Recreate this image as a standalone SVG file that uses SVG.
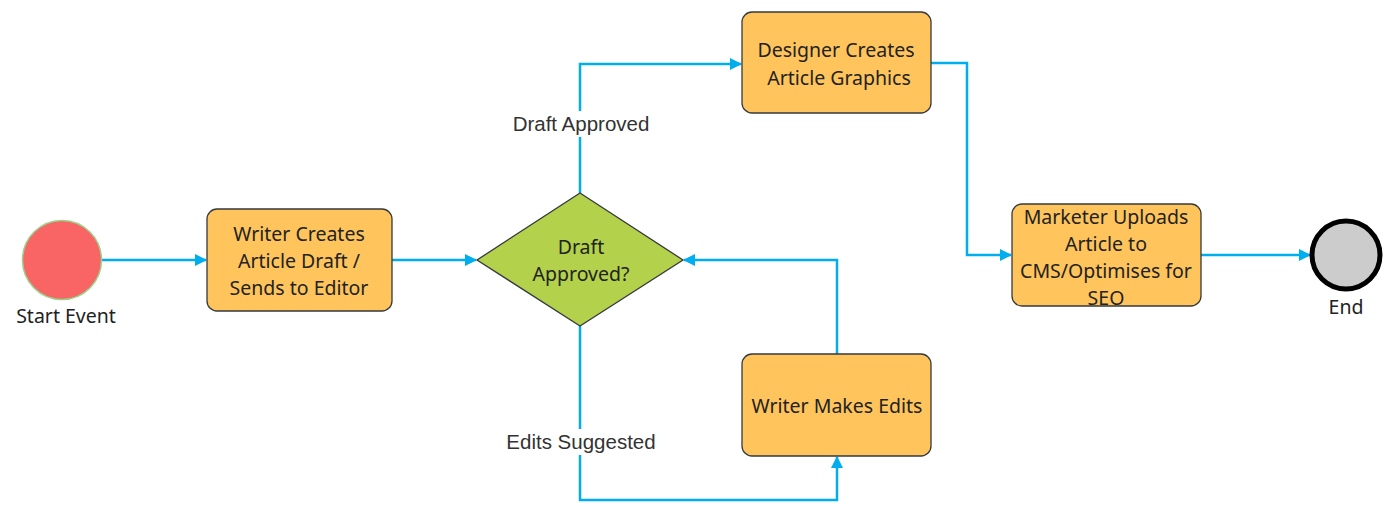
<svg xmlns="http://www.w3.org/2000/svg" width="1395" height="526" viewBox="0 0 1395 526">
<style>
.box{fill:#FFC55C;stroke:#36393d;stroke-width:1.3}
.t{font-family:"Noto Sans",sans-serif;font-size:19.5px;fill:#222;text-anchor:middle}
.lbl{font-family:"Liberation Sans",Arial,sans-serif;font-size:20.5px;fill:#333;text-anchor:middle}
.c{fill:none;stroke:#00AEEF;stroke-width:2.5}
</style>
<defs>
<marker id="a" viewBox="0 0 12 12" refX="11" refY="6" markerWidth="12" markerHeight="12" markerUnits="userSpaceOnUse" orient="auto">
<path d="M0,0 L12,6 L0,12 Z" fill="#00AEEF"/>
</marker>
</defs>
<rect width="1395" height="526" fill="#fff"/>
<g id="connectors">
<path class="c" d="M102,260 H206" marker-end="url(#a)"/>
<path class="c" d="M392,260 H476" marker-end="url(#a)"/>
<path class="c" d="M580,193 V64 H741" marker-end="url(#a)"/>
<path class="c" d="M931,63 H967 V255 H1011" marker-end="url(#a)"/>
<path class="c" d="M1201,255 H1310" marker-end="url(#a)"/>
<path class="c" d="M580,326 V500 H837 V457" marker-end="url(#a)"/>
<path class="c" d="M837,354 V260 H684" marker-end="url(#a)"/>
<rect x="508" y="111" width="146" height="26" fill="#fff"/>
<text class="lbl" x="581" y="131">Draft Approved</text>
<rect x="503" y="429" width="156" height="26" fill="#fff"/>
<text class="lbl" x="581" y="449">Edits Suggested</text>
</g>
<g id="start">
<circle cx="62" cy="260" r="39.5" fill="#F96565" stroke="#9BD08A" stroke-width="1.5"/>
<text class="t" x="66" y="323">Start Event</text>
</g>
<g id="writer-creates">
<rect class="box" x="207" y="209" width="185" height="102" rx="10"/>
<text class="t" x="299" y="241">Writer Creates</text>
<text class="t" x="299" y="268">Article Draft /</text>
<text class="t" x="299" y="295">Sends to Editor</text>
</g>
<g id="decision">
<polygon points="580,193 683,260 580,326 477,260" fill="#B3D14B" stroke="#36393d" stroke-width="1.3"/>
<text class="t" x="581" y="254">Draft</text>
<text class="t" x="581" y="281">Approved?</text>
</g>
<g id="designer">
<rect class="box" x="742" y="12" width="189" height="101" rx="10"/>
<text class="t" x="836" y="57">Designer Creates</text>
<text class="t" x="839" y="85">Article Graphics</text>
</g>
<g id="marketer">
<rect class="box" x="1012" y="204" width="189" height="102" rx="10"/>
<text class="t" x="1106" y="224">Marketer Uploads</text>
<text class="t" x="1106" y="251">Article to</text>
<text class="t" x="1106" y="278">CMS/Optimises for</text>
<text class="t" x="1106" y="305">SEO</text>
</g>
<g id="edits">
<rect class="box" x="742" y="354" width="189" height="102" rx="10"/>
<text class="t" x="837" y="413">Writer Makes Edits</text>
</g>
<g id="end">
<circle cx="1346" cy="255" r="34" fill="#CCCCCC" stroke="#000" stroke-width="5"/>
<text class="t" x="1346" y="314">End</text>
</g>
</svg>
